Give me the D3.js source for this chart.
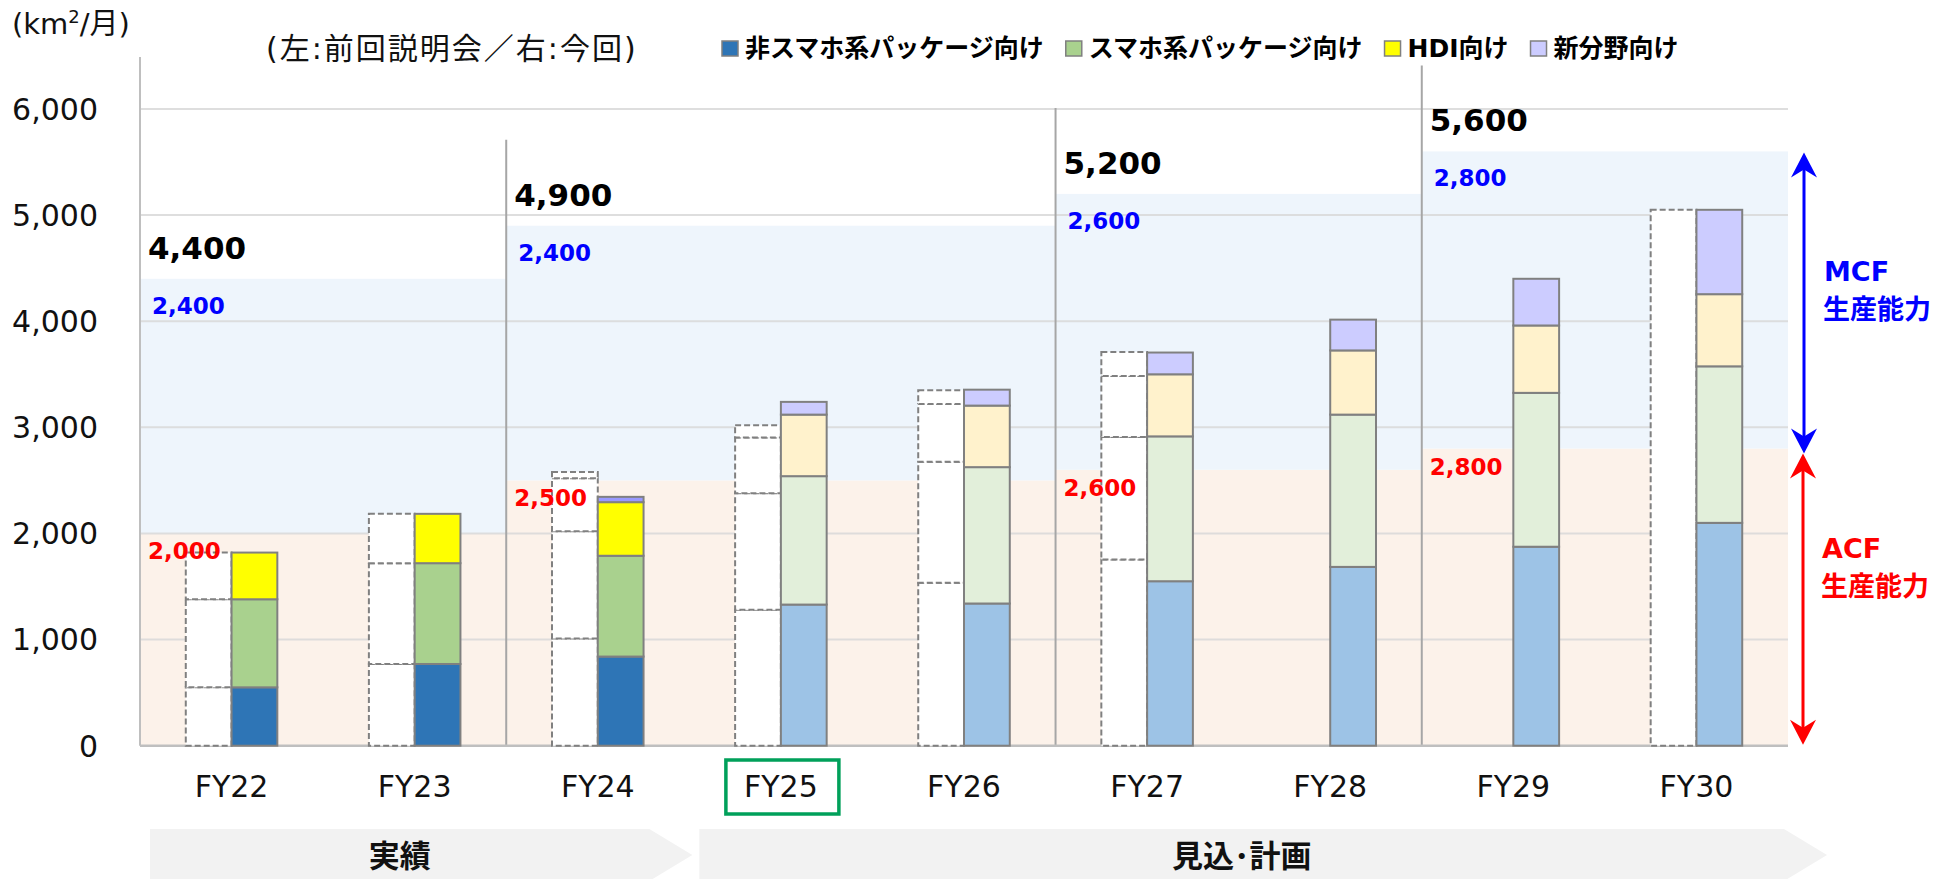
<!DOCTYPE html>
<html lang="ja">
<head>
<meta charset="UTF-8">
<title>生産能力と需要見通し</title>
<style>
  body { margin: 0; background: #fff; }
  svg text { font-family: "DejaVu Sans", "Noto Sans CJK JP", sans-serif; }
  .jp { font-family: "Noto Sans CJK JP", sans-serif; }
</style>
</head>
<body>
<svg id="chart" width="1947" height="879"></svg>
<script src="https://cdn.jsdelivr.net/npm/d3@7"></script>
<script>
// ---- data ----
const categories = ["FY22", "FY23", "FY24", "FY25", "FY26", "FY27", "FY28", "FY29", "FY30"];
const seriesNames = ["非スマホ系パッケージ向け", "スマホ系パッケージ向け", "HDI向け", "新分野向け"];

// 今回 (right bars)
const nonSmartCur = [550, 770, 840, 1330, 1340, 1550, 1685, 1875, 2100];
const smartCur    = [830, 950, 950, 1210, 1285, 1365, 1435, 1450, 1475];
const hdiCur      = [440, 465, 505, 580, 580, 585, 605, 635, 680];
const newCur      = [0, 0, 50, 120, 150, 205, 290, 440, 795];

// 前回説明会 (left dashed bars)
const nonSmartPrev = [550, 770, 1010, 1280, 1535, 1755, null, null, null];
const smartPrev    = [830, 950, 1010, 1100, 1140, 1155, null, null, null];
const hdiPrev      = [440, 465, 500, 525, 545, 575, null, null, null];
const newPrev      = [0, 0, 60, 115, 130, 225, null, null, null];
const prevTotal    = [1820, 2185, 2580, 3020, 3350, 3710, null, null, 5050];

const yTicks = [0, 1000, 2000, 3000, 4000, 5000, 6000];

// capacity periods
const regionFirst = ["FY22", "FY24", "FY27", "FY29"];
const regionLast  = ["FY23", "FY26", "FY28", "FY30"];
const acfCapacity = [2000, 2500, 2600, 2800];
const mcfCapacity = [2400, 2400, 2600, 2800];

const phaseLabels = ["実績", "見込･計画"];
const phaseFirst  = ["FY22", "FY25"];
const phaseLast   = ["FY24", "FY30"];
const actualYears = ["FY22", "FY23", "FY24"];
const currentYear = "FY25";

// ---- colours ----
const actualColors = ["#2E75B6", "#A9D18E", "#FFFF00", "#9999FF"];
const planColors   = ["#9DC3E6", "#E2EFDA", "#FFF2CC", "#CCCCFF"];
const legendColors = ["#2E75B6", "#A9D18E", "#FFFF00", "#CCCCFF"];

const svg = d3.select("#chart");
const fmt = d3.format(",");

const x = d3.scaleBand().domain(categories).range([140, 1788]).paddingInner(0.5).paddingOuter(0.25);
const y = d3.scaleLinear().domain([0, 6000]).range([745.7, 109]);
const step = x.step();
const barW = x.bandwidth() / 2;
const cellLeft = c => x(c) - step * 0.25;
const cellRight = c => x(c) + x.bandwidth() + step * 0.25;

// ---- capacity backgrounds ----
const bg = svg.append("g");
regionFirst.forEach((f, i) => {
  const x0 = cellLeft(f), x1 = cellRight(regionLast[i]);
  const acf = acfCapacity[i], tot = acfCapacity[i] + mcfCapacity[i];
  bg.append("rect").attr("x", x0).attr("width", x1 - x0)
    .attr("y", y(acf)).attr("height", y(0) - y(acf)).attr("fill", "#FCF2EA");
  bg.append("rect").attr("x", x0).attr("width", x1 - x0)
    .attr("y", y(tot)).attr("height", y(acf) - y(tot)).attr("fill", "#EEF5FC");
});

// gridlines
svg.append("g").selectAll("line").data(yTicks.filter(t => t > 0)).enter().append("line")
  .attr("x1", 140).attr("x2", 1788).attr("y1", d => y(d)).attr("y2", d => y(d))
  .attr("stroke", "#D9D9D9").attr("stroke-width", 2).attr("opacity", 0.85);

// period separators
regionFirst.forEach((f, i) => {
  if (i === 0) return;
  const tot = acfCapacity[i] + mcfCapacity[i];
  svg.append("line").attr("x1", cellLeft(f)).attr("x2", cellLeft(f))
    .attr("y1", y(tot) - 86).attr("y2", y(0))
    .attr("stroke", "#A6A6A6").attr("stroke-width", 2);
});

// axes
svg.append("line").attr("x1", 140).attr("x2", 140).attr("y1", 57).attr("y2", y(0))
  .attr("stroke", "#BFBFBF").attr("stroke-width", 2);
svg.append("line").attr("x1", 140).attr("x2", 1788).attr("y1", y(0)).attr("y2", y(0))
  .attr("stroke", "#BFBFBF").attr("stroke-width", 2.5);

svg.append("g").selectAll("text").data(yTicks).enter().append("text")
  .attr("x", 98).attr("y", d => y(d)).attr("dy", "0.36em")
  .attr("text-anchor", "end").attr("font-size", 30).attr("fill", "#111")
  .text(d => fmt(d));

// ---- previous plan (dashed) ----
const prevG = svg.append("g");
categories.forEach((c, i) => {
  if (prevTotal[i] == null) return;
  let segs;
  if (nonSmartPrev[i] != null) {
    const vals = [nonSmartPrev[i], smartPrev[i], hdiPrev[i], newPrev[i]];
    let acc = 0;
    segs = vals.map(v => { const s = [acc, acc + v]; acc += v; return s; }).filter(s => s[1] > s[0]);
  } else {
    segs = [[0, prevTotal[i]]];
  }
  prevG.selectAll(null).data(segs).enter().append("rect")
    .attr("x", x(c)).attr("width", barW)
    .attr("y", d => y(d[1])).attr("height", d => y(d[0]) - y(d[1]))
    .attr("fill", "#fff").attr("stroke", "#808080").attr("stroke-width", 2)
    .attr("stroke-dasharray", "6,3");
});

// ---- current (solid stacked) ----
const rows = categories.map((c, i) => ({ cat: c, s0: nonSmartCur[i], s1: smartCur[i], s2: hdiCur[i], s3: newCur[i] }));
const keys = ["s0", "s1", "s2", "s3"];
const stacked = d3.stack().keys(keys)(rows);
stacked.forEach((layer, k) => {
  svg.append("g").selectAll("rect").data(layer.filter(d => d[1] > d[0])).enter().append("rect")
    .attr("x", d => x(d.data.cat) + barW).attr("width", barW)
    .attr("y", d => y(d[1])).attr("height", d => y(d[0]) - y(d[1]))
    .attr("fill", d => actualYears.includes(d.data.cat) ? actualColors[k] : planColors[k])
    .attr("stroke", "#808080").attr("stroke-width", 2);
});

// ---- capacity labels ----
regionFirst.forEach((f, i) => {
  const x0 = cellLeft(f);
  const acf = acfCapacity[i], mcf = mcfCapacity[i], tot = acf + mcf;
  svg.append("text").attr("x", x0 + 8).attr("y", y(tot) - 20)
    .attr("font-size", 31).attr("font-weight", "bold").attr("fill", "#000").text(fmt(tot));
  svg.append("text").attr("x", x0 + 12).attr("y", y(tot) + 35)
    .attr("font-size", 23).attr("font-weight", "bold").attr("fill", "#0000FF").text(fmt(mcf));
  svg.append("text").attr("x", x0 + 8).attr("y", y(acf) + 26)
    .attr("font-size", 23).attr("font-weight", "bold").attr("fill", "#FF0000").text(fmt(acf));
});

// ---- x labels ----
svg.append("g").selectAll("text").data(categories).enter().append("text")
  .attr("x", d => x(d) + x.bandwidth() / 2).attr("y", 797)
  .attr("text-anchor", "middle").attr("font-size", 30).attr("fill", "#111").text(d => d);

const cx = x(currentYear) + x.bandwidth() / 2;
svg.append("rect").attr("x", cx - 55).attr("y", 760).attr("width", 113).attr("height", 54)
  .attr("fill", "none").attr("stroke", "#00A05A").attr("stroke-width", 3.5);

// ---- phase chevrons ----
phaseLabels.forEach((lab, i) => {
  const x0 = cellLeft(phaseFirst[i]) + 10;
  const edge = cellRight(phaseLast[i]);
  const tip = i === phaseLabels.length - 1 ? edge + 39 : edge + 3;
  const shoulder = tip - 43;
  const top = 829, mid = 855, bot = 881;
  svg.append("path")
    .attr("d", `M${x0},${top}L${shoulder},${top}L${tip},${mid}L${shoulder},${bot}L${x0},${bot}Z`)
    .attr("fill", "#F2F2F2");
  svg.append("text").attr("class", "jp").attr("x", (x0 + shoulder) / 2).attr("y", 867)
    .attr("text-anchor", "middle").attr("font-size", 31).attr("font-weight", "bold")
    .attr("fill", "#111").text(lab);
});

// ---- capacity arrows ----
function arrow(xa, ya, yb, color) {
  svg.append("line").attr("x1", xa).attr("x2", xa).attr("y1", ya + 10).attr("y2", yb - 10)
    .attr("stroke", color).attr("stroke-width", 3);
  [[ya, 1], [yb, -1]].forEach(([t, s]) => {
    svg.append("path")
      .attr("d", `M${xa},${t}L${xa - 13},${t + 25 * s}L${xa},${t + 17 * s}L${xa + 13},${t + 25 * s}Z`)
      .attr("fill", color);
  });
}
const lastI = regionFirst.length - 1;
const lastAcf = acfCapacity[lastI], lastTot = acfCapacity[lastI] + mcfCapacity[lastI];
arrow(1804, y(lastTot) + 1, y(lastAcf) + 5, "#0000FF");
arrow(1803, y(lastAcf) + 5, y(0) - 1, "#FF0000");

function sideLabel(top, name, color, x0) {
  const g = svg.append("g").attr("font-weight", "bold").attr("font-size", 27).attr("fill", color);
  g.append("text").attr("x", x0).attr("y", top).text(name);
  g.append("text").attr("class", "jp").attr("x", x0 - 1).attr("y", top + 38).text("生産能力");
}
sideLabel(y(lastTot) + 130, "MCF", "#0000FF", 1824);
sideLabel(y(lastAcf) + 109, "ACF", "#FF0000", 1822);

// ---- titles ----
const unit = svg.append("text").attr("x", 12).attr("y", 34).attr("font-size", 29).attr("fill", "#111");
unit.append("tspan").text("(km");
unit.append("tspan").attr("font-size", 18).attr("dy", -11).text("2");
unit.append("tspan").attr("dy", 11).text("/月)");
svg.append("text").attr("x", 266).attr("y", 59).attr("font-size", 30).attr("letter-spacing", 2)
  .attr("fill", "#111").text("(左:前回説明会／右:今回)");

// ---- legend ----
const legend = svg.append("g");
let lx = 722;
seriesNames.forEach((name, k) => {
  legend.append("rect").attr("x", lx).attr("y", 41).attr("width", 16).attr("height", 15)
    .attr("fill", legendColors[k]).attr("stroke", "#808080").attr("stroke-width", 1.5);
  const t = legend.append("text").attr("x", lx + 23).attr("y", 57)
    .attr("font-size", 25).attr("font-weight", "bold").attr("fill", "#000").text(name);
  lx = lx + 23 + t.node().getComputedTextLength() + 22;
});
</script>
</body>
</html>
